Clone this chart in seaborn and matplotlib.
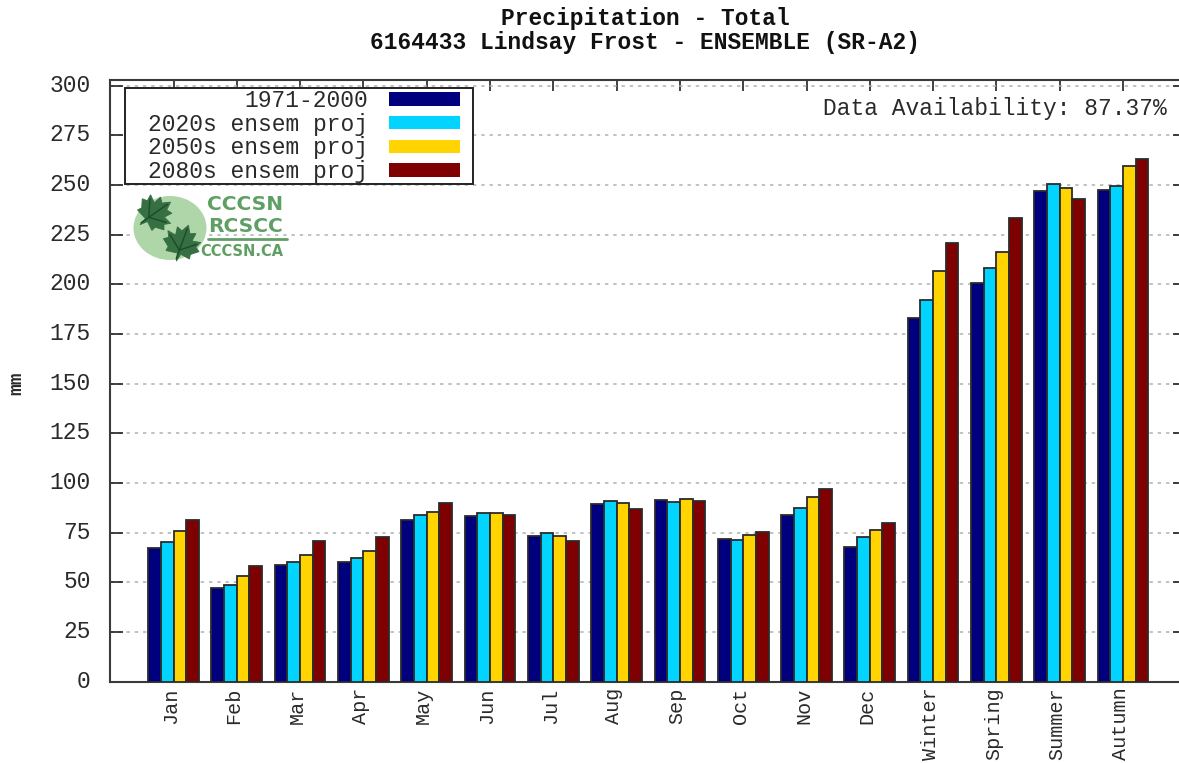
import numpy as np
import pandas as pd
import matplotlib
matplotlib.use("Agg")
import matplotlib.pyplot as plt
from matplotlib.patches import Patch, Ellipse, Polygon, Rectangle
from matplotlib.transforms import Affine2D, ScaledTranslation
from matplotlib.ticker import MultipleLocator
import seaborn as sns

periods = ["Jan", "Feb", "Mar", "Apr", "May", "Jun", "Jul", "Aug", "Sep", "Oct",
           "Nov", "Dec", "Winter", "Spring", "Summer", "Autumn"]
base_1971 = [67.5, 47, 58.5, 60, 81.5, 83.5, 73.5, 89.5, 91.5, 72, 84, 68, 183, 200.5, 247, 247.5]
proj_2020 = [70.5, 48.5, 60, 62.5, 84, 85, 75, 91, 90.5, 71.5, 87.5, 73, 192, 208, 250.5, 249.5]
proj_2050 = [76, 53, 64, 66, 85.5, 85, 73.5, 90, 92, 74, 93, 76.5, 206.5, 216.5, 248.5, 259.5]
proj_2080 = [81.5, 58, 71, 73, 90, 84, 71, 87, 91, 75.5, 97, 80, 221, 233.5, 243, 263]

series_names = ["1971-2000", "2020s ensem proj", "2050s ensem proj", "2080s ensem proj"]
series_colors = ["#00007f", "#00d4ff", "#ffd400", "#7f0000"]

W, H = 1179, 763
sns.set_style("white")
plt.rcParams["font.family"] = ["Liberation Mono", "DejaVu Sans Mono"]
FS = 16.5
INK = "#2a2a2a"

df = pd.DataFrame({
    "period": periods * 4,
    "series": np.repeat(series_names, len(periods)),
    "mm": base_1971 + proj_2020 + proj_2050 + proj_2080,
})

fig = plt.figure(figsize=(W / 100, H / 100), dpi=100)
# the right edge of the frame falls outside the picture, like in the original
AX_L, AX_R, AX_T, AX_B = 110.2, 1186.3, 80.5, 681.7
ax = fig.add_axes([AX_L / W, (H - AX_B) / H, (AX_R - AX_L) / W, (AX_B - AX_T) / H])

sns.barplot(
    data=df, x="period", y="mm", hue="series", order=periods, hue_order=series_names,
    palette=series_colors, width=0.80, gap=0, saturation=1, errorbar=None,
    edgecolor="#2b2b2b", linewidth=1.3, ax=ax, zorder=3, legend=False,
)

ax.set_xlim(-1, 16)
ax.set_ylim(0, 302.6)
ax.yaxis.set_major_locator(MultipleLocator(25))
ax.set_xlabel("")
ax.set_ylabel("mm", fontsize=14, fontweight="bold", color=INK, labelpad=0)
ax.yaxis.set_label_coords((25 - AX_L) / (AX_R - AX_L), 0.496)

ax.grid(axis="y", color="#b0b0b0", linestyle=(0, (2.2, 3.2)), linewidth=1.1)
ax.set_axisbelow(True)
ax.tick_params(axis="y", direction="in", length=9.4, width=1.2, color="#222222",
               left=True, right=True, labelsize=FS, labelcolor=INK, pad=14)
ax.tick_params(axis="x", direction="in", length=8, width=1.2, color="#222222",
               bottom=True, top=True, labelsize=14.5, labelcolor=INK, pad=4)
plt.setp(ax.get_xticklabels(), rotation=90, ha="center", va="top")

# nudge tick labels to where the original has them
up = ScaledTranslation(0, 3 / 100, fig.dpi_scale_trans)
left = ScaledTranslation(-3 / 100, 0, fig.dpi_scale_trans)
for lab in ax.get_yticklabels():
    lab.set_transform(lab.get_transform() + up)
for lab in ax.get_xticklabels():
    lab.set_transform(lab.get_transform() + left)

for s in ax.spines.values():
    s.set_visible(True)
    s.set_color("#3a3a3a")
    s.set_linewidth(1.5)

# picture pixels, y downwards
px = Affine2D().scale(1 / W, -1 / H).translate(0, 1) + fig.transFigure

ax.add_patch(Rectangle((125, 88), 348, 96, transform=px, facecolor="white",
                       edgecolor="#222222", linewidth=1.4, zorder=4, clip_on=False))
handles = [Patch(facecolor=c, edgecolor="none") for c in series_colors]
leg = ax.legend(
    handles, series_names, loc="upper left", markerfirst=False, fontsize=FS,
    bbox_to_anchor=((148 - AX_L) / (AX_R - AX_L), (AX_B - 89) / (AX_B - AX_T)),
    borderaxespad=0, frameon=False,
    handlelength=3.13, handleheight=0.52, handletextpad=0.9, labelspacing=0.03,
    borderpad=0, labelcolor=INK,
)
leg.set_zorder(5)
for t in leg.get_texts():
    t.set_ha("right")

fig.text(1167 / W, 1 - 109 / H, "Data Availability: 87.37%", ha="right", va="center",
         fontsize=FS, color=INK, zorder=6)

fig.text(645 / W, 1 - 18 / H, "Precipitation - Total", ha="center", va="center",
         fontsize=FS, fontweight="bold", color="#111111")
fig.text(645 / W, 1 - 42 / H, "6164433 Lindsay Frost - ENSEMBLE (SR-A2)", ha="center",
         va="center", fontsize=FS, fontweight="bold", color="#111111")

# logo
green = "#5f9f63"
leaf = np.array([
    [0, -1], [0.22, -0.6], [0.52, -0.72], [0.46, -0.28], [0.92, -0.36], [0.76, -0.04],
    [1, 0.12], [0.62, 0.42], [0.66, 0.66], [0.14, 0.58], [0.05, 1], [-0.05, 0.58],
    [-0.66, 0.66], [-0.62, 0.42], [-1, 0.12], [-0.76, -0.04], [-0.92, -0.36], [-0.46, -0.28],
    [-0.52, -0.72], [-0.22, -0.6],
])
veins = [[[0, 0.9], [0, -0.8]], [[0, 0.4], [0.75, -0.2]], [[0, 0.4], [-0.75, -0.2]]]
fig.add_artist(Ellipse((170, 228), 73, 64, facecolor="#aed6a8", edgecolor="none",
                       transform=px, zorder=7))
for cx, cy, r, ang in [(155, 213, 19, 55), (182, 243, 19, 20)]:
    a = np.deg2rad(ang)
    rot = np.array([[np.cos(a), -np.sin(a)], [np.sin(a), np.cos(a)]])
    pts = leaf @ rot.T * r + [cx, cy]
    fig.add_artist(Polygon(pts, closed=True, facecolor="#356f42", edgecolor="#356f42",
                           linewidth=0.6, transform=px, zorder=8))
    for v in veins:
        vp = np.array(v) @ rot.T * r + [cx, cy]
        fig.add_artist(plt.Line2D(vp[:, 0], vp[:, 1], color="#1f4a29", linewidth=1,
                                  transform=px, zorder=9))
logo_font = ["DejaVu Sans"]
for txt, x, y, size in [("CCCSN", 245, 205, 14.5), ("RCSCC", 245, 227, 14.5),
                        ("CCCSN.CA", 242, 252, 10.5)]:
    fig.text(x / W, 1 - y / H, txt, ha="center", va="center", fontsize=size,
             fontweight="bold", color=green, family=logo_font, zorder=8)
fig.add_artist(plt.Line2D([208, 287], [239, 239], color=green, linewidth=2,
                          transform=px, zorder=8))

fig.savefig("out.png", dpi=100)
